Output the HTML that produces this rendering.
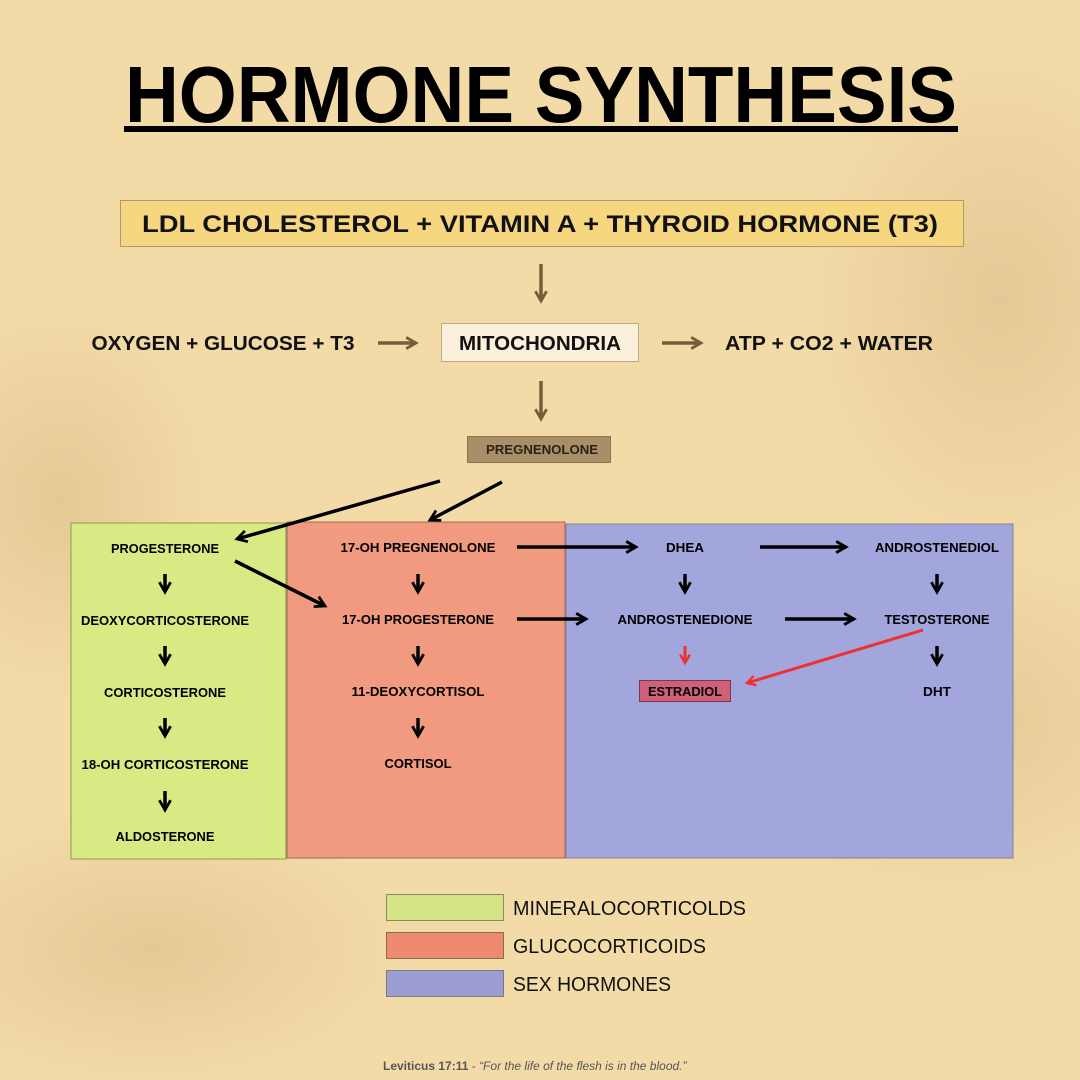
<!DOCTYPE html>
<html><head><meta charset="utf-8"><style>
html,body{margin:0;padding:0}
body{width:1080px;height:1080px;overflow:hidden;background:#f3dba8;font-family:"Liberation Sans",sans-serif}
svg{display:block}
</style></head><body>
<svg width="1080" height="1080" viewBox="0 0 1080 1080" xmlns="http://www.w3.org/2000/svg" font-family="Liberation Sans, sans-serif" font-weight="bold">
<defs>
<radialGradient id="g1" cx="0.5" cy="0.5" r="0.5"><stop offset="0" stop-color="#d9b985" stop-opacity="0.55"/><stop offset="1" stop-color="#d9b985" stop-opacity="0"/></radialGradient>
<marker id="ab" viewBox="0 0 10 10" refX="8" refY="5" markerWidth="4" markerHeight="4" orient="auto"><path d="M1,1 L8,5 L1,9" fill="none" stroke="#000" stroke-width="2"/></marker>
<marker id="abr" viewBox="0 0 10 10" refX="8" refY="5" markerWidth="4" markerHeight="4" orient="auto"><path d="M1,1 L8,5 L1,9" fill="none" stroke="#ee3030" stroke-width="2"/></marker>
<marker id="abn" viewBox="0 0 10 10" refX="8" refY="5" markerWidth="4" markerHeight="4" orient="auto"><path d="M1,1 L8,5 L1,9" fill="none" stroke="#7a5c3a" stroke-width="2"/></marker>
</defs>
<rect width="1080" height="1080" fill="#f3dba8"/>
<ellipse cx="1000" cy="300" rx="200" ry="260" fill="url(#g1)"/>
<ellipse cx="60" cy="500" rx="160" ry="200" fill="url(#g1)"/>
<ellipse cx="950" cy="720" rx="260" ry="180" fill="url(#g1)"/>
<ellipse cx="150" cy="950" rx="260" ry="140" fill="url(#g1)"/>

<text x="541" y="122" text-anchor="middle" font-size="80" textLength="832" lengthAdjust="spacingAndGlyphs" fill="#000">HORMONE SYNTHESIS</text>
<rect x="124" y="126" width="834" height="6" fill="#000"/>

<rect x="120.5" y="200.5" width="843" height="46" fill="#f6d67e" stroke="#b09a6a"/>
<text x="540" y="232" text-anchor="middle" font-size="24" textLength="796" lengthAdjust="spacingAndGlyphs" fill="#111">LDL CHOLESTEROL  +  VITAMIN A  +  THYROID HORMONE (T3)</text>

<g stroke="#7a5c3a" stroke-width="3.5" fill="none" marker-end="url(#abn)">
<line x1="541" y1="264" x2="541" y2="301"/>
<line x1="378" y1="343" x2="416" y2="343"/>
<line x1="662" y1="343" x2="701" y2="343"/>
<line x1="541" y1="381" x2="541" y2="419"/>
</g>
<rect x="441.5" y="323.5" width="197" height="38" fill="#faf0dc" stroke="#bba98a"/>
<text x="540" y="350" text-anchor="middle" font-size="20" textLength="162" lengthAdjust="spacingAndGlyphs" fill="#111">MITOCHONDRIA</text>
<text x="223" y="350" text-anchor="middle" font-size="20" textLength="263" lengthAdjust="spacingAndGlyphs" fill="#111">OXYGEN  +  GLUCOSE  +  T3</text>
<text x="829" y="350" text-anchor="middle" font-size="20" textLength="208" lengthAdjust="spacingAndGlyphs" fill="#111">ATP  +  CO2  +  WATER</text>

<rect x="467.5" y="436.5" width="143" height="26" fill="#a88f68" stroke="#8a7452"/>
<text x="542" y="454" text-anchor="middle" font-size="12.5" textLength="112" lengthAdjust="spacingAndGlyphs" fill="#2a2218">PREGNENOLONE</text>

<rect x="71" y="523" width="215" height="336" fill="#d8ea84" stroke="#8a9a50"/>
<rect x="287" y="522" width="278" height="336" fill="#f29a80" stroke="#a06a58"/>
<rect x="566" y="524" width="447" height="334" fill="#a3a6dc" stroke="#80829a"/>

<g font-size="13" fill="#000" text-anchor="middle" lengthAdjust="spacingAndGlyphs">
<text x="165" y="553" textLength="108" lengthAdjust="spacingAndGlyphs">PROGESTERONE</text>
<text x="165" y="625" textLength="168" lengthAdjust="spacingAndGlyphs">DEOXYCORTICOSTERONE</text>
<text x="165" y="697" textLength="122" lengthAdjust="spacingAndGlyphs">CORTICOSTERONE</text>
<text x="165" y="769" textLength="167" lengthAdjust="spacingAndGlyphs">18-OH CORTICOSTERONE</text>
<text x="165" y="841" textLength="99" lengthAdjust="spacingAndGlyphs">ALDOSTERONE</text>
<text x="418" y="552" textLength="155" lengthAdjust="spacingAndGlyphs">17-OH PREGNENOLONE</text>
<text x="418" y="624" textLength="152" lengthAdjust="spacingAndGlyphs">17-OH PROGESTERONE</text>
<text x="418" y="696" textLength="133" lengthAdjust="spacingAndGlyphs">11-DEOXYCORTISOL</text>
<text x="418" y="768" textLength="67" lengthAdjust="spacingAndGlyphs">CORTISOL</text>
<text x="685" y="552" textLength="38" lengthAdjust="spacingAndGlyphs">DHEA</text>
<text x="937" y="552" textLength="124" lengthAdjust="spacingAndGlyphs">ANDROSTENEDIOL</text>
<text x="685" y="624" textLength="135" lengthAdjust="spacingAndGlyphs">ANDROSTENEDIONE</text>
<text x="937" y="624" textLength="105" lengthAdjust="spacingAndGlyphs">TESTOSTERONE</text>
<text x="937" y="696" textLength="28" lengthAdjust="spacingAndGlyphs">DHT</text>
</g>
<rect x="639.5" y="680.5" width="91" height="21" fill="#d0607a" stroke="#7a3a48"/>
<text x="685" y="696" text-anchor="middle" font-size="13" textLength="74" lengthAdjust="spacingAndGlyphs" fill="#000">ESTRADIOL</text>

<g stroke="#000" stroke-width="3.5" fill="none" marker-end="url(#ab)">
<line x1="440" y1="481" x2="237" y2="539"/>
<line x1="502" y1="482" x2="430" y2="520"/>
<line x1="235" y1="561" x2="325" y2="606"/>
<line x1="517" y1="547" x2="636" y2="547"/>
<line x1="760" y1="547" x2="846" y2="547"/>
<line x1="517" y1="619" x2="586" y2="619"/>
<line x1="785" y1="619" x2="854" y2="619"/>
<line x1="165" y1="574" x2="165" y2="592"/>
<line x1="165" y1="646" x2="165" y2="664"/>
<line x1="165" y1="718" x2="165" y2="736"/>
<line x1="165" y1="791" x2="165" y2="810"/>
<line x1="418" y1="574" x2="418" y2="592"/>
<line x1="418" y1="646" x2="418" y2="664"/>
<line x1="418" y1="718" x2="418" y2="736"/>
<line x1="685" y1="574" x2="685" y2="592"/>
<line x1="937" y1="574" x2="937" y2="592"/>
<line x1="937" y1="646" x2="937" y2="664"/>
</g>
<g stroke="#ee3030" stroke-width="3" fill="none" marker-end="url(#abr)">
<line x1="685" y1="646" x2="685" y2="663"/>
<line x1="923" y1="630" x2="747" y2="683"/>
</g>

<rect x="386.5" y="894.5" width="117" height="26" fill="#d4e484" stroke="#8a8a6a"/>
<rect x="386.5" y="932.5" width="117" height="26" fill="#ee8a70" stroke="#8a6a5a"/>
<rect x="386.5" y="970.5" width="117" height="26" fill="#9c9ed2" stroke="#7a7a8a"/>
<g font-weight="normal" font-size="20" fill="#111">
<text x="513" y="915" textLength="233" lengthAdjust="spacingAndGlyphs">MINERALOCORTICOLDS</text>
<text x="513" y="953" textLength="193" lengthAdjust="spacingAndGlyphs">GLUCOCORTICOIDS</text>
<text x="513" y="991" textLength="158" lengthAdjust="spacingAndGlyphs">SEX HORMONES</text>
</g>
<text x="383" y="1070" font-size="12" fill="#555"><tspan font-weight="bold">Leviticus 17:11</tspan><tspan font-weight="normal">  - </tspan><tspan font-weight="normal" font-style="italic">“For the life of the flesh is in the blood.”</tspan></text>
</svg>
</body></html>
